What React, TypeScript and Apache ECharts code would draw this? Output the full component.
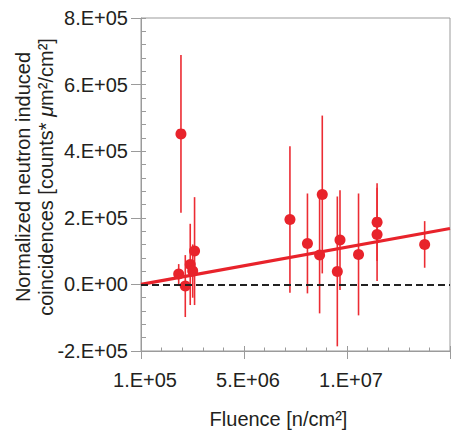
import React, { useEffect, useRef } from "react";
import * as echarts from "echarts";

// Fluence [n/cm^2]
const fluence = [
  1.83e6, 1.94e6, 2.15e6, 2.39e6, 2.51e6, 2.6e6,
  7.23e6, 8.08e6, 8.67e6, 8.8e6, 9.53e6, 9.66e6,
  10.56e6, 11.46e6, 11.46e6, 13.77e6,
];
// Normalized neutron induced coincidences
const coincidences = [
  3.1e4, 4.52e5, -5e3, 6.0e4, 4.0e4, 1.0e5,
  1.95e5, 1.23e5, 8.8e4, 2.7e5, 3.9e4, 1.33e5,
  9.0e4, 1.5e5, 1.87e5, 1.2e5,
];
// symmetric error (+/-)
const errors = [
  3.0e4, 2.37e5, 9.3e4, 1.22e5, 8.0e4, 1.62e5,
  2.2e5, 1.5e5, 1.75e5, 2.37e5, 2.25e5, 1.5e5,
  1.83e5, 1.4e5, 1.17e5, 7.0e4,
];
// linear fit end points
const fitX = [0, 1.5e7];
const fitY = [0, 1.68e5];

const xTickLabels = ["1.E+05", "5.E+06", "1.E+07", ""];
const yTickLabels = ["-2.E+05", "0.E+00", "2.E+05", "4.E+05", "6.E+05", "8.E+05"];

const FONT = "'Liberation Sans', Arial, Helvetica, sans-serif";
const TEXT = "#231f20";
const AXIS = "#9b9b9b";
const RED = "#e8232b";

export default function App() {
  const ref = useRef<HTMLDivElement>(null);
  useEffect(() => {
    if (!ref.current) return;
    const chart = echarts.init(ref.current, undefined, { renderer: "svg" });
    const errData = fluence.map((f, i) => [f, coincidences[i] - errors[i], coincidences[i] + errors[i]]);
    const option: any = {
      animation: false,
      textStyle: { fontFamily: FONT },
      grid: { left: 141, right: 1, top: 18, bottom: 82, show: true, borderColor: AXIS, borderWidth: 1 },
      xAxis: [
        {
          type: "value", min: 0, max: 1.5e7, interval: 5e6, position: "bottom",
          axisLine: { show: true, onZero: false, lineStyle: { color: AXIS, width: 1 } },
          axisTick: { show: true, inside: false, length: 8, lineStyle: { color: AXIS } },
          minorTick: { show: false },
          splitLine: { show: false },
          axisLabel: {
            margin: 19, fontSize: 20, color: TEXT, fontFamily: FONT, padding: [0, 0, 0, 8],
            formatter: (_v: number, idx: number) => xTickLabels[idx] ?? "",
          },
          name: "Fluence [n/cm²]", nameLocation: "middle", nameGap: 58,
          nameTextStyle: { fontSize: 20, color: TEXT, fontFamily: FONT, padding: [0, 34, 0, 0] },
        },
        {
          type: "value", min: 0, max: 1.5e7, interval: 5e6, position: "bottom",
          axisLine: { show: false, onZero: false },
          axisTick: { show: true, inside: true, length: 5, lineStyle: { color: AXIS } },
          minorTick: { show: true, splitNumber: 5, length: 3.5, lineStyle: { color: AXIS } },
          splitLine: { show: false },
          axisLabel: { show: false },
        },
      ],
      yAxis: [
        {
          type: "value", min: -2e5, max: 8e5, interval: 2e5, position: "left",
          axisLine: { show: true, onZero: false, lineStyle: { color: AXIS, width: 1 } },
          axisTick: { show: true, inside: false, length: 10, lineStyle: { color: AXIS } },
          minorTick: { show: false },
          splitLine: { show: false },
          axisLabel: {
            margin: 13, fontSize: 20, color: TEXT, fontFamily: FONT,
            formatter: (_v: number, idx: number) => yTickLabels[idx] ?? "",
          },
        },
        {
          type: "value", min: -2e5, max: 8e5, interval: 2e5, position: "left",
          axisLine: { show: false, onZero: false },
          axisTick: { show: true, inside: true, length: 5, lineStyle: { color: AXIS } },
          minorTick: { show: true, splitNumber: 5, length: 5, lineStyle: { color: AXIS } },
          splitLine: { show: false },
          axisLabel: { show: false },
        },
      ],
      graphic: [
        {
          type: "text",
          x: 34, y: 177, rotation: Math.PI / 2,
          style: {
            text: "{n|Normalized neutron induced}\n{n|coincidences [counts* }{i|μ}{n|m²/cm²]}",
            align: "center", verticalAlign: "middle",
            fill: TEXT, font: `20px ${FONT}`, lineHeight: 23,
            rich: {
              n: { fontSize: 20, fontFamily: FONT, fill: TEXT, lineHeight: 23 },
              i: { fontSize: 20, fontFamily: FONT, fontStyle: "italic", fill: TEXT, lineHeight: 23 },
            },
          },
        },
      ],
      series: [
        {
          type: "custom", xAxisIndex: 0, yAxisIndex: 0, z: 2,
          data: errData,
          encode: { x: 0, y: [1, 2] },
          renderItem: (_p: any, api: any) => {
            const x = api.value(0);
            const lo = api.coord([x, api.value(1)]);
            const hi = api.coord([x, api.value(2)]);
            return {
              type: "line",
              shape: { x1: lo[0], y1: lo[1], x2: hi[0], y2: hi[1] },
              style: { stroke: "#ec2c33", lineWidth: 1.6 },
            };
          },
        },
        {
          type: "line", xAxisIndex: 0, yAxisIndex: 0, z: 3,
          data: fitX.map((x, i) => [x, fitY[i]]),
          symbol: "none",
          lineStyle: { color: RED, width: 3.2 },
          markLine: {
            silent: true, symbol: "none", label: { show: false },
            lineStyle: { color: "#222", type: [7, 4], width: 1.8 },
            data: [{ yAxis: 0 }],
          },
        },
        {
          type: "scatter", xAxisIndex: 0, yAxisIndex: 0, z: 4,
          data: fluence.map((f, i) => [f, coincidences[i]]),
          symbol: "circle", symbolSize: 11,
          itemStyle: { color: RED, opacity: 1 },
        },
      ],
    };
    chart.setOption(option);
    return () => chart.dispose();
  }, []);
  return <div ref={ref} style={{ position: "absolute", left: 0, top: 0, width: 453, height: 434 }} />;
}
